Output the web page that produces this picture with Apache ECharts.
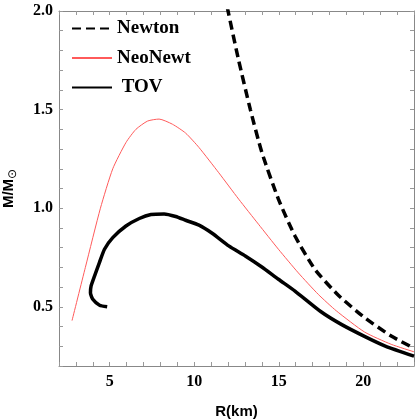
<!DOCTYPE html>
<html>
<head>
<meta charset="utf-8">
<script src="https://cdn.jsdelivr.net/npm/echarts@6/dist/echarts.min.js"></script>
<style>
  html, body { margin: 0; padding: 0; background: #fff; }
  #chart { width: 415px; height: 420px; }
</style>
</head>
<body>
<div id="chart"></div>
<script>
  // mass-radius curves
  const newtonR = [11.95, 12.6, 13.32, 14.0, 14.98, 15.96, 17.14, 18.51, 20.08, 21.65, 23.0];
  const newtonM = [2.02, 1.76, 1.50, 1.283, 1.046, 0.859, 0.69, 0.56, 0.445, 0.352, 0.29];

  const neoR = [2.77, 3.56, 4.45, 5.18, 5.96, 6.55, 7.24, 7.92, 8.71, 9.49, 10.28, 11.45, 12.63, 13.8, 14.98, 16.16, 17.34, 18.4, 20.08, 21.65, 23.0];
  const neoM = [0.43, 0.70, 1.0, 1.2, 1.333, 1.40, 1.442, 1.452, 1.426, 1.381, 1.308, 1.18, 1.046, 0.919, 0.792, 0.672, 0.563, 0.48, 0.372, 0.31, 0.272];

  const tovR = [4.85, 4.4, 4.0, 3.86, 3.9, 4.1, 4.39, 4.69, 5.18, 5.96, 6.75, 7.44, 8.22, 8.9, 9.49, 10.28, 11.06, 12.04, 13.02, 14.0, 14.98, 15.96, 17.5, 18.7, 20.1, 21.3, 23.0];
  const tovM = [0.50, 0.508, 0.538, 0.572, 0.606, 0.656, 0.724, 0.792, 0.851, 0.910, 0.948, 0.968, 0.971, 0.958, 0.939, 0.914, 0.873, 0.809, 0.758, 0.702, 0.640, 0.580, 0.475, 0.411, 0.349, 0.301, 0.25];

  const pairs = (xs, ys) => xs.map((x, i) => [x, ys[i]]);

  const chart = echarts.init(document.getElementById('chart'));

  const tickFont = { fontFamily: 'Liberation Serif', fontWeight: 'bold', fontSize: 16, color: '#000' };
  const axisLine = { show: true, lineStyle: { color: '#888', width: 1 } };
  const axisTick = { show: true, inside: true, length: 4, lineStyle: { color: '#999' } };

  const option = {
    animation: false,
    grid: { left: 59, right: 1, top: 11, bottom: 54, outerBoundsMode: 'none', containLabel: false },
    legend: {
      orient: 'vertical',
      left: 66,
      top: 14,
      itemWidth: 40,
      itemHeight: 19,
      itemGap: 10.5,
      itemStyle: { opacity: 0 },
      textStyle: { fontFamily: 'Liberation Serif', fontWeight: 'bold', fontSize: 19, color: '#000' },
      formatter: name => name === 'TOV' ? ' TOV' : name,
      data: ['Newton', 'NeoNewt', 'TOV']
    },
    xAxis: [{
      type: 'value',
      min: 2, max: 23, interval: 1,
      position: 'bottom',
      name: 'R(km)',
      nameLocation: 'middle',
      nameGap: 38,
      nameTextStyle: { fontFamily: 'Liberation Sans', fontWeight: 'bold', fontSize: 15, color: '#000' },
      axisLine: axisLine,
      axisTick: axisTick,
      splitLine: { show: false },
      axisLabel: Object.assign({ margin: 8, interval: 0, showMinLabel: true, showMaxLabel: true,
        formatter: v => (Math.abs(v % 5) < 1e-6 ? String(v) : '') }, tickFont)
    }, {
      type: 'value',
      min: 2, max: 23, interval: 1,
      position: 'top',
      axisLine: axisLine,
      axisTick: axisTick,
      splitLine: { show: false },
      axisLabel: { show: false }
    }],
    yAxis: [{
      type: 'value',
      min: 0.2, max: 2.0, interval: 0.1,
      position: 'left',
      name: '{a|M/M}{s|⊙}',
      nameLocation: 'middle',
      nameGap: 40,
      nameTextStyle: {
        rich: {
          a: { fontFamily: 'Liberation Sans', fontWeight: 'bold', fontSize: 15, color: '#000' },
          s: { fontFamily: 'DejaVu Sans', fontSize: 12, color: '#000', verticalAlign: 'bottom', padding: [8, 0, 0, 0] }
        }
      },
      axisLine: axisLine,
      axisTick: axisTick,
      splitLine: { show: false },
      axisLabel: Object.assign({ margin: 6, interval: 0, showMinLabel: true, showMaxLabel: true,
        formatter: v => {
          const d = Math.round(v * 10);
          return d % 5 === 0 ? (d / 10).toFixed(1) : '';
        } }, tickFont)
    }, {
      type: 'value',
      min: 0.2, max: 2.0, interval: 0.1,
      position: 'right',
      axisLine: axisLine,
      axisTick: axisTick,
      splitLine: { show: false },
      axisLabel: { show: false }
    }],
    series: [{
      name: 'Newton',
      type: 'line',
      smooth: 0.2,
      symbol: 'none',
      lineStyle: { color: '#000', width: 3.5, type: [9, 5] },
      itemStyle: { color: '#000' },
      data: pairs(newtonR, newtonM)
    }, {
      name: 'NeoNewt',
      type: 'line',
      smooth: 0.2,
      symbol: 'none',
      lineStyle: { color: '#ff5a5a', width: 1 },
      itemStyle: { color: '#ff5a5a' },
      data: pairs(neoR, neoM)
    }, {
      name: 'TOV',
      type: 'line',
      smooth: 0.2,
      symbol: 'none',
      lineStyle: { color: '#000', width: 3.5 },
      itemStyle: { color: '#000' },
      data: pairs(tovR, tovM)
    }]
  };

  chart.setOption(option);
</script>
</body>
</html>
